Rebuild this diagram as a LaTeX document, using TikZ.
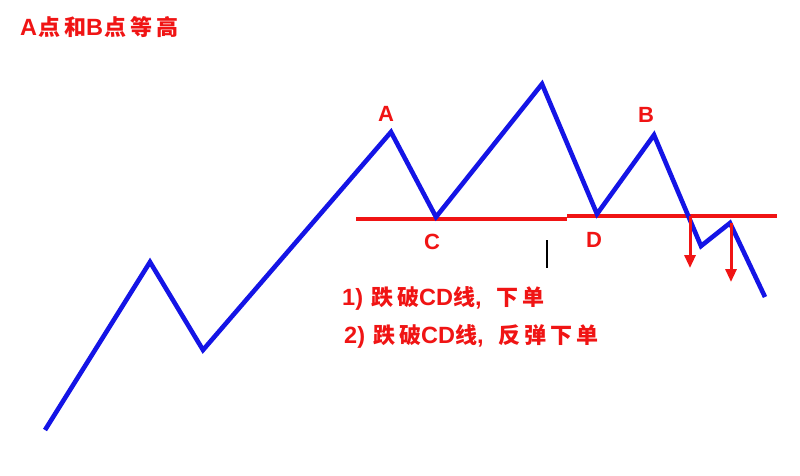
\documentclass[tikz,border=0pt]{standalone}
\usepackage{fontspec}
\setmainfont{Liberation Sans}
\newfontfamily\cjk[LetterSpace=18]{Noto Sans CJK SC}
\newfontfamily\lat{Liberation Sans}
\usetikzlibrary{arrows.meta}
\definecolor{wblue}{RGB}{20,20,230}
\definecolor{wred}{RGB}{240,20,20}
\newcommand{\latbig}[1]{{\lat\fontsize{23.5}{26}\selectfont #1}}
\tikzset{
  wave/.style={draw=wblue,line width=4.6pt,line join=miter},
  level/.style={draw=wred,line width=3.4pt},
  drop/.style={draw=wred,line width=3pt,-{Triangle[width=11pt,length=13pt]}},
  lbl/.style={text=wred,font=\bfseries\fontsize{22}{26}\selectfont,inner sep=0pt},
  note/.style={text=wred,font=\cjk\bfseries\fontsize{22}{26}\selectfont,inner sep=0pt,anchor=west},
}
\begin{document}
\begin{tikzpicture}[x=1pt,y=-1pt]
\useasboundingbox (0,0) rectangle (800,475);
\fill[white] (0,0) rectangle (800,475);
% wave points
\coordinate (p0) at (45,430);
\coordinate (p1) at (150,262);
\coordinate (p2) at (203,350);
\coordinate (pA) at (391,132);
\coordinate (pC) at (436,217);
\coordinate (pT) at (542,84);
\coordinate (pD) at (597,214);
\coordinate (pB) at (654,135);
\coordinate (p8) at (701,246);
\coordinate (p9) at (730,223);
\coordinate (p10) at (765,297);
% support lines
\coordinate (l1) at (356,219);
\coordinate (l2) at (567,219);
\coordinate (l3) at (567,216);
\coordinate (l4) at (777,216);
\draw[level] (l1) -- (l2);
\draw[level] (l3) -- (l4);
\draw[wave] (p0) -- (p1) -- (p2) -- (pA) -- (pC) -- (pT) -- (pD) -- (pB) -- (p8) -- (p9) -- (p10);
% arrows
\coordinate (a1s) at (690,216);
\coordinate (a1e) at (690,268);
\coordinate (a2s) at (731,223);
\coordinate (a2e) at (731,282);
\draw[drop] (a1s) -- (a1e);
\draw[drop] (a2s) -- (a2e);
% tick
\coordinate (t1) at (547,240);
\coordinate (t2) at (547,268);
\draw[black,line width=2pt] (t1) -- (t2);
% labels
\node[lbl] (A) at (386,114) {A};
\node[lbl] (B) at (646,115) {B};
\node[lbl] (C) at (432,242) {C};
\node[lbl] (D) at (594,240) {D};
\node[note] (title) at (20,27) {\latbig{A}\hspace{1pt}点和\latbig{B}\hspace{1pt}点等高};
\node[note] (n1) at (342,298) {\latbig{1)}\hspace{8pt}跌破\latbig{CD}线\latbig{,}\hspace{15pt}下单};
\node[note] (n2) at (344,336) {\latbig{2)}\hspace{8pt}跌破\latbig{CD}线\latbig{,}\hspace{15pt}反弹下单};
\end{tikzpicture}
\end{document}
